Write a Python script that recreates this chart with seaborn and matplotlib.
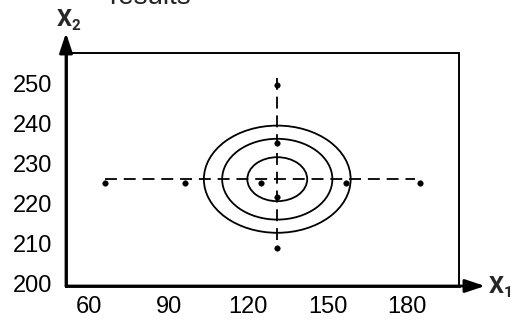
import numpy as np
import pandas as pd
import matplotlib
matplotlib.use("Agg")
import matplotlib.pyplot as plt
import matplotlib.transforms as mtransforms
from matplotlib.patches import Ellipse
import seaborn as sns

# design points (x1, x2)
pt_x1 = [60, 90, 119, 151, 179, 125, 125, 125, 125]
pt_x2 = [225.7, 225.7, 225.7, 225.7, 225.7, 250.2, 235.7, 222.2, 209.4]

# dashed cross through the centre
h_line_x1 = [60, 177]
h_line_x2 = [226.7, 226.7]
v_line_x1 = [125, 125]
v_line_x2 = [211.5, 252]

# contour ellipses (centre, semi axes)
ell_center = (125, 226.7)
ell_a = [11.3, 20.8, 27.7]
ell_b = [5.5, 10.1, 13.4]

x_ticks = [60, 90, 120, 150, 180]
y_ticks = [200, 210, 220, 230, 240, 250]

sns.set_style("white")
plt.rcParams["font.family"] = ["Liberation Sans", "DejaVu Sans"]

fig = plt.figure(figsize=(5.12, 3.2), dpi=100)
ax = fig.add_axes([66 / 512, 1 - 286 / 320, (459 - 66) / 512, (286 - 53) / 320])

dash = (0, (6.6, 3.8))
sns.lineplot(x=h_line_x1, y=h_line_x2, ax=ax, color="black", lw=1.3,
             linestyle=dash, estimator=None, sort=False)
sns.lineplot(x=v_line_x1, y=v_line_x2, ax=ax, color="black", lw=1.3,
             linestyle=dash, estimator=None, sort=False)

for a, b in zip(ell_a, ell_b):
    ax.add_patch(Ellipse(ell_center, 2 * a, 2 * b, fill=False, ec="black", lw=1.3))

pts = pd.DataFrame({"x1": pt_x1, "x2": pt_x2})
sns.scatterplot(data=pts, x="x1", y="x2", ax=ax, color="black", s=16,
                edgecolor="black", zorder=5)

ax.set_xlim(45.28, 193.58)
ax.set_ylim(200, 258.25)
ax.set_xticks(x_ticks)
ax.set_yticks(y_ticks)
ax.set_xlabel("")
ax.set_ylabel("")
ax.tick_params(axis="x", direction="inout", length=8, width=1.3, labelsize=17, pad=3, colors="black")
ax.tick_params(axis="y", direction="out", length=4, width=1.3, labelsize=17, pad=6, colors="black")

for lab in ax.get_xticklabels():
    lab.set_transform(lab.get_transform() + mtransforms.ScaledTranslation(-0.16, 0, fig.dpi_scale_trans))
for lab in ax.get_yticklabels():
    lab.set_transform(lab.get_transform() + mtransforms.ScaledTranslation(0, 0.03, fig.dpi_scale_trans))

for side in ["top", "right"]:
    ax.spines[side].set_linewidth(1.4)
    ax.spines[side].set_color("black")
for side in ["left", "bottom"]:
    ax.spines[side].set_linewidth(2.0)
    ax.spines[side].set_color("black")

arrow = dict(arrowstyle="-|>,head_length=0.6,head_width=0.2", color="black",
             lw=2.0, mutation_scale=20, shrinkA=0, shrinkB=0)
ax.annotate("", xy=((485 - 66) / 393, 0), xytext=(0, 0), xycoords="axes fraction",
            textcoords="axes fraction", arrowprops=arrow, annotation_clip=False)
ax.annotate("", xy=(0, (286 - 33) / 233), xytext=(0, 0), xycoords="axes fraction",
            textcoords="axes fraction", arrowprops=arrow, annotation_clip=False)

# axis names: bold X with a small bold subscript
bold = dict(family=["Roboto", "DejaVu Sans"], fontweight="bold", va="baseline", ha="left")
fig.text(57 / 512, 1 - 26 / 320, "X", fontsize=17, **bold)
fig.text(72 / 512, 1 - 30 / 320, "2", fontsize=11, **bold)
fig.text(489 / 512, 1 - 293 / 320, "X", fontsize=17, **bold)
fig.text(504 / 512, 1 - 297 / 320, "1", fontsize=11, **bold)
fig.text(150 / 512, 1 - 4 / 320, "results", fontsize=20, va="baseline", ha="center")

fig.savefig("out.png", dpi=100)
